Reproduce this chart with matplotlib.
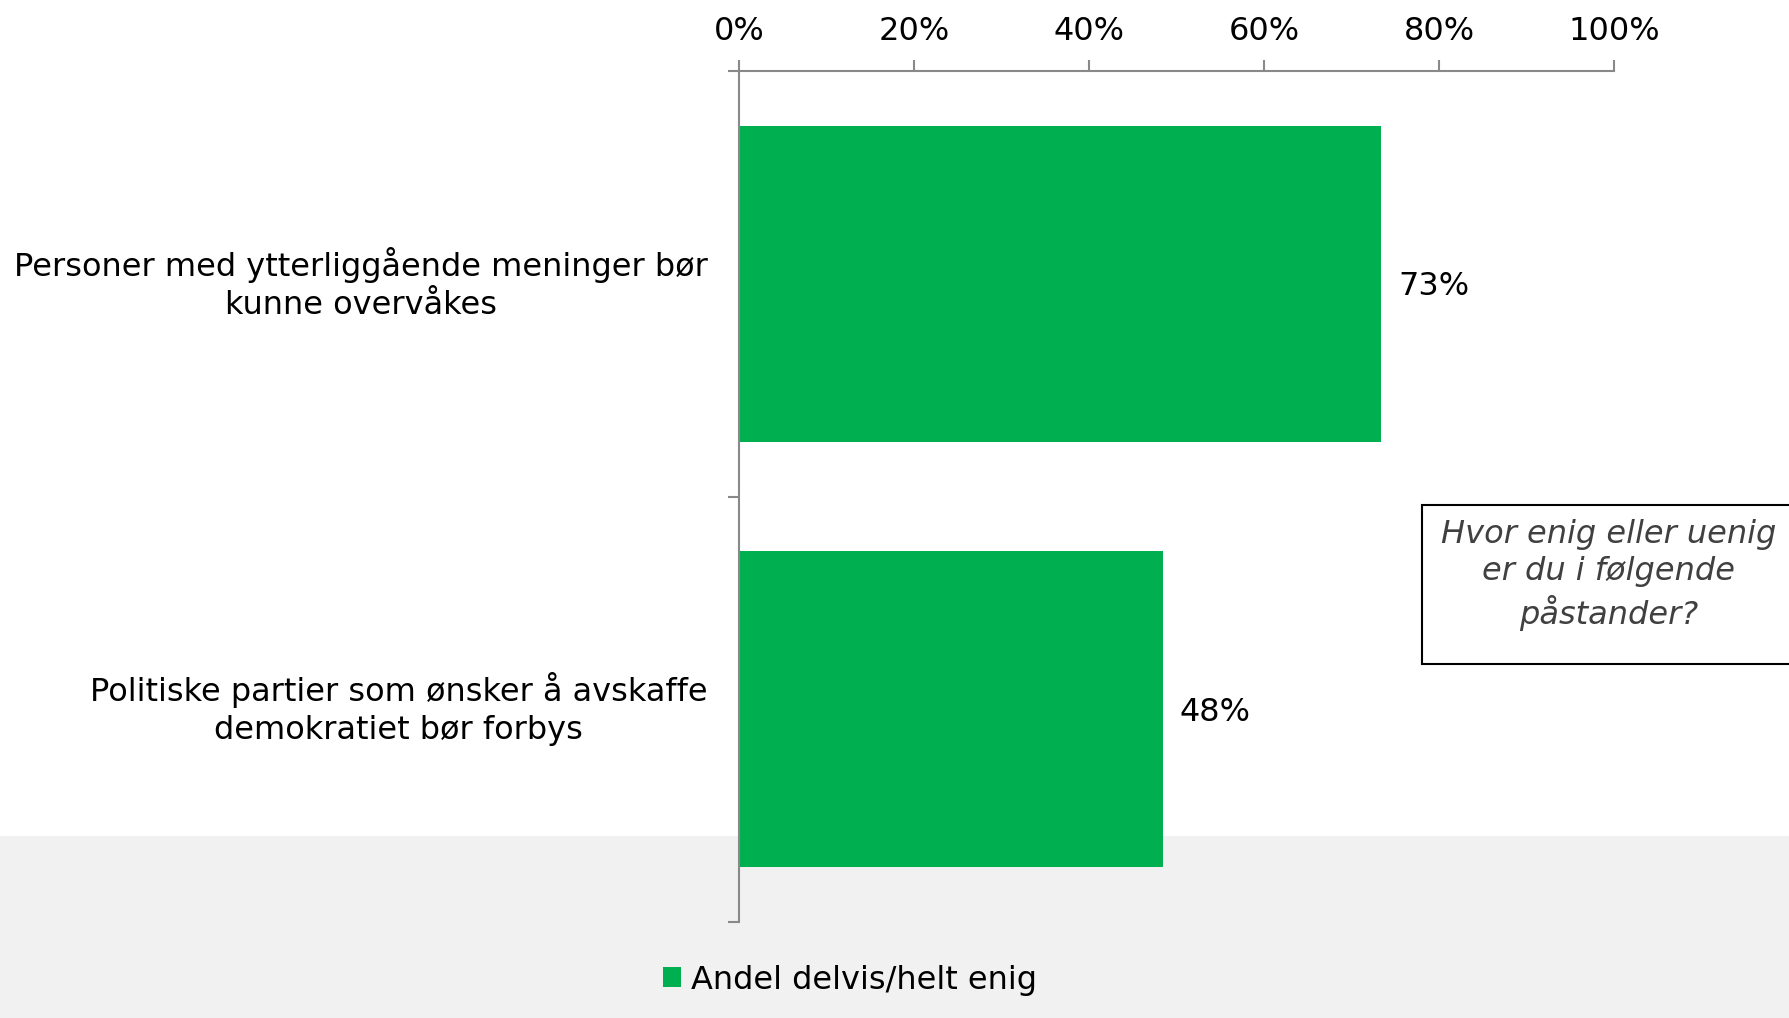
import matplotlib.pyplot as plt
from matplotlib.patches import Rectangle
from matplotlib.ticker import PercentFormatter

# data
categories = ["Personer med ytterliggående meninger bør\nkunne overvåkes",
              "Politiske partier som ønsker å avskaffe\ndemokratiet bør forbys"]
values = [73.4, 48.4]
value_labels = ["73%", "48%"]
series_name = "Andel delvis/helt enig"
question = "Hvor enig eller uenig\ner du i følgende\npåstander?"

GREEN = "#00B050"
AXIS_GRAY = "#898989"
W, H = 1789, 1018
FS = 23

plt.rcParams['font.family'] = ['DejaVu Sans']

fig = plt.figure(figsize=(W / 100, H / 100), dpi=100)
fig.patch.set_facecolor("white")

# gray band at the bottom of the slide
fig.patches.append(Rectangle((0, 0), 1, (H - 836) / H, transform=fig.transFigure,
                             facecolor="#F1F1F1", edgecolor="none", zorder=0))

ax = fig.add_axes([739 / W, 1 - 922 / H, 875 / W, 851 / H])
ax.set_facecolor("none")
ax.set_zorder(1)

ypos = list(range(len(categories)))
bars = ax.barh(ypos, values, height=0.743, color=GREEN, label=series_name)
for y, v, lab in zip(ypos, values, value_labels):
    ax.annotate(lab, (v, y), xytext=(12, -2), textcoords="offset points",
                ha="left", va="center", fontsize=FS)

ax.set_xlim(0, 100)
ax.set_ylim(len(categories) - 0.5, -0.5)
ax.xaxis.tick_top()
ax.set_xticks([0, 20, 40, 60, 80, 100])
ax.xaxis.set_major_formatter(PercentFormatter(decimals=0))
ax.tick_params(axis="x", length=8, width=1.5, color=AXIS_GRAY, labelsize=FS, pad=9)

ax.set_yticks([-0.5, 0.5, 1.5])
ax.set_yticklabels([])
ax.tick_params(axis="y", length=8, width=1.5, color=AXIS_GRAY)

for s in ["right", "bottom"]:
    ax.spines[s].set_visible(False)
for s in ["top", "left"]:
    ax.spines[s].set_color(AXIS_GRAY)
    ax.spines[s].set_linewidth(1.5)

# category labels, right aligned, centred lines
for y, cat in zip(ypos, categories):
    ax.text(-0.036, y, cat, transform=ax.get_yaxis_transform(), ha="right", va="center",
            multialignment="center", fontsize=FS, linespacing=1.3)

# question box on the right
fig.patches.append(Rectangle((1422 / W, 1 - 664 / H), 0.3, 159 / H, transform=fig.transFigure,
                             facecolor="white", edgecolor="black", linewidth=1.5, zorder=2))
fig.text(1609 / W, 1 - 575 / H, question, ha="center", va="center", fontsize=FS,
         style="italic", color="#404040", linespacing=1.25, zorder=3)

fig.legend(handles=[bars], labels=[series_name], loc="center", bbox_to_anchor=(850 / W, 1 - 980 / H),
           frameon=False, fontsize=FS, handlelength=0.58, handleheight=0.58, handletextpad=0.3)

fig.savefig("out.png", dpi=100)
